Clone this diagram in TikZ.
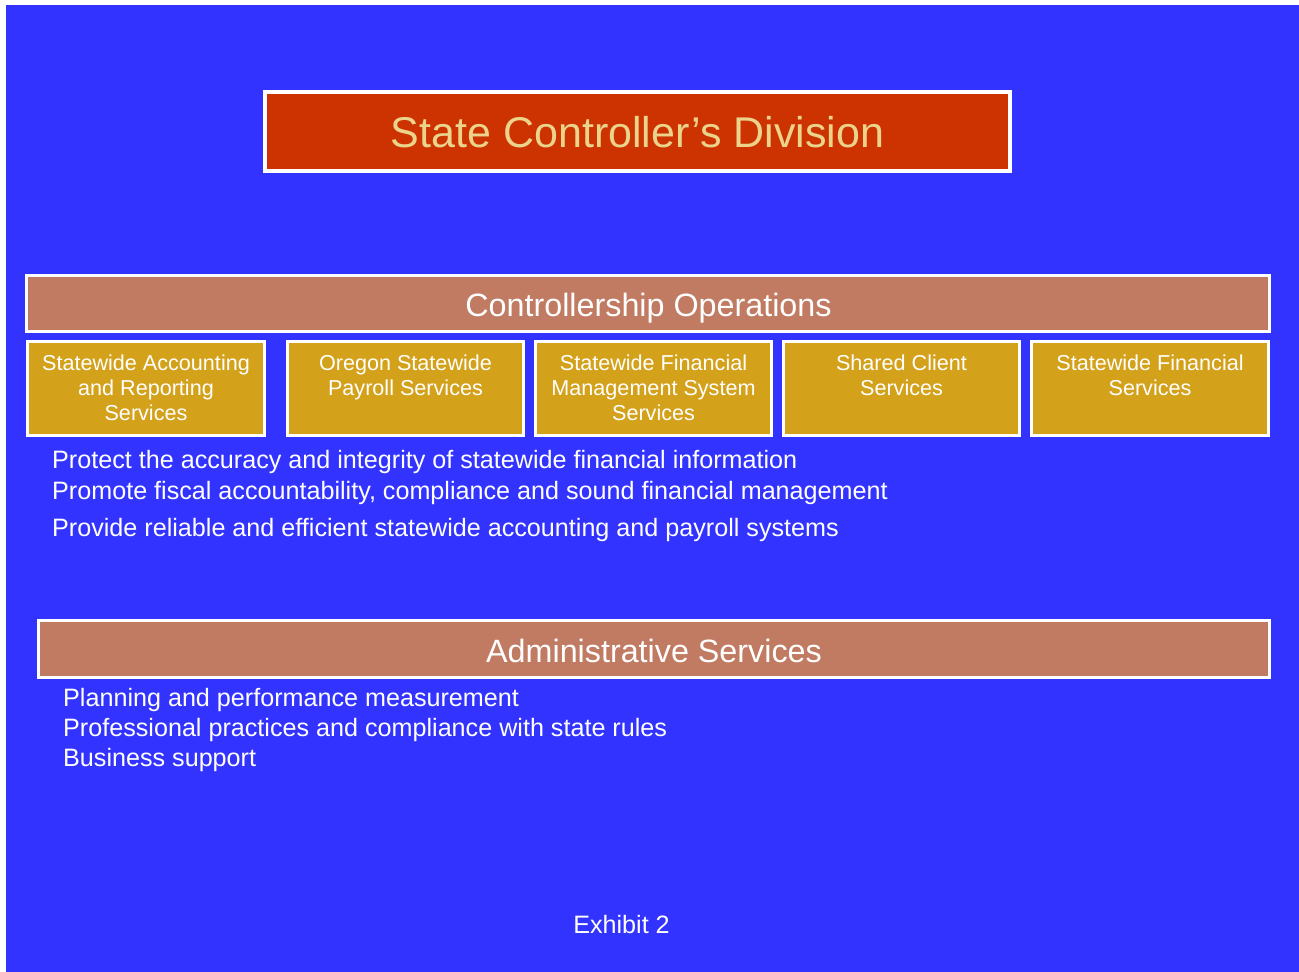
\documentclass[tikz,border=0pt]{standalone}
\usepackage{fontspec}
\setmainfont{Liberation Sans}
\definecolor{slideblue}{HTML}{3333FF}
\definecolor{titlered}{HTML}{CC3300}
\definecolor{bandtan}{HTML}{C07B62}
\definecolor{unitgold}{HTML}{D4A11B}
\definecolor{titletext}{HTML}{EBD38C}
\newcommand{\topstrut}{\rule{0pt}{16pt}}
\tikzset{
  titlebox/.style={draw=white, line width=4pt, fill=titlered, inner sep=0pt},
  bandbox/.style={draw=white, line width=3pt, fill=bandtan, inner sep=0pt},
  unitbox/.style={draw=white, line width=2.5pt, fill=unitgold, inner sep=0pt,
    minimum height=94pt, anchor=north},
  titlelabel/.style={text=titletext, inner sep=0pt, anchor=base,
    font=\fontsize{43}{48}\selectfont},
  bandlabel/.style={text=white, inner sep=0pt, anchor=base,
    font=\fontsize{32.3}{36}\selectfont},
  unitlabel/.style={text=white, inner sep=0pt, anchor=north, align=center,
    font=\fontsize{21.6}{25}\selectfont},
  bodytext/.style={text=white, inner sep=0pt, anchor=base west,
    font=\fontsize{25.15}{29}\selectfont},
}
\begin{document}
\begin{tikzpicture}[x=1pt, y=-1pt]
  \useasboundingbox (0,0) rectangle (1299,972);
  \fill[white] (0,0) rectangle (1299,972);
  \fill[slideblue] (6,5) rectangle (1299,972);

  % division title
  \node[titlebox, minimum width=745pt, minimum height=79pt] (title) at (637.5,131.5) {};
  \node[titlelabel] (titletxt) at (637.5,147.5) {State Controller’s Division};

  % controllership band and its units
  \node[bandbox, minimum width=1243pt, minimum height=56pt] (ops) at (648,303.5) {};
  \node[bandlabel] (opstxt) at (648.5,316.5) {Controllership Operations};

  \node[unitbox, minimum width=237pt] (u1) at (146,340) {};
  \node[unitbox, minimum width=236pt] (u2) at (405.5,340) {};
  \node[unitbox, minimum width=236pt] (u3) at (653.5,340) {};
  \node[unitbox, minimum width=236pt] (u4) at (901.5,340) {};
  \node[unitbox, minimum width=237pt] (u5) at (1150,340) {};

  \node[unitlabel] (u1txt) at (146,354) {\topstrut Statewide Accounting\\and Reporting\\Services};
  \node[unitlabel] (u2txt) at (405.5,354) {\topstrut Oregon Statewide\\Payroll Services};
  \node[unitlabel] (u3txt) at (653.5,354) {\topstrut Statewide Financial\\Management System\\Services};
  \node[unitlabel] (u4txt) at (901.5,354) {\topstrut Shared Client\\Services};
  \node[unitlabel] (u5txt) at (1150,354) {\topstrut Statewide Financial\\Services};

  \node[bodytext] (g1) at (52,468) {Protect the accuracy and integrity of statewide financial information};
  \node[bodytext] (g2) at (52,499) {Promote fiscal accountability, compliance and sound financial management};
  \node[bodytext] (g3) at (52,536) {Provide reliable and efficient statewide accounting and payroll systems};

  % administrative band
  \node[bandbox, minimum width=1231pt, minimum height=57pt] (admin) at (654,649) {};
  \node[bandlabel] (admintxt) at (654,662.5) {Administrative Services};

  \node[bodytext] (a1) at (63,706) {Planning and performance measurement};
  \node[bodytext] (a2) at (63,736) {Professional practices and compliance with state rules};
  \node[bodytext] (a3) at (63,766) {Business support};

  \node[bodytext, anchor=base] (exhibit) at (621.5,933) {Exhibit 2};
\end{tikzpicture}
\end{document}
